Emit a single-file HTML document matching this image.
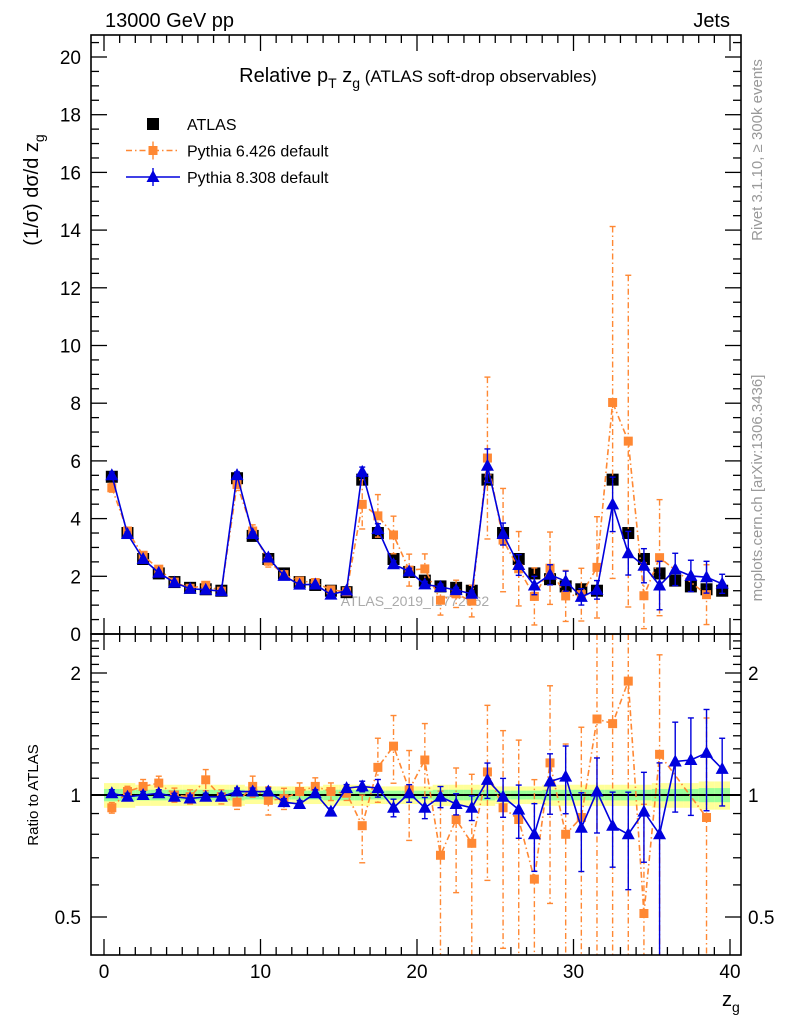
<!DOCTYPE html>
<html><head><meta charset="utf-8"><style>
body{margin:0;background:#fff;width:786px;height:1024px;overflow:hidden}
svg text{font-family:"Liberation Sans",sans-serif}
</style></head><body>
<svg id="c" width="786" height="1024" xmlns="http://www.w3.org/2000/svg">
<text x="105" y="27" font-size="20">13000 GeV pp</text>
<text x="730" y="27" font-size="20" text-anchor="end">Jets</text>
<text x="418" y="82" font-size="20" text-anchor="middle">Relative p<tspan font-size="14" dy="6">T</tspan><tspan dy="-6"> z</tspan><tspan font-size="14" dy="6">g</tspan><tspan dy="-6" font-size="17"> (ATLAS soft-drop observables)</tspan></text>
<text transform="translate(38,190) rotate(-90)" font-size="20" text-anchor="middle">(1/σ) dσ/d z<tspan font-size="14" dy="6">g</tspan></text>
<text transform="translate(38,795) rotate(-90)" font-size="15" text-anchor="middle">Ratio to ATLAS</text>
<text transform="translate(762,150) rotate(-90)" font-size="15" fill="#999" text-anchor="middle">Rivet 3.1.10, ≥ 300k events</text>
<text transform="translate(762,488) rotate(-90)" font-size="15" fill="#999" text-anchor="middle">mcplots.cern.ch [arXiv:1306.3436]</text>
<text x="722" y="1006" font-size="20">z<tspan font-size="14" dy="6">g</tspan></text>
<text x="415" y="606" font-size="14" fill="#aaa" text-anchor="middle">ATLAS_2019_I1772062</text>
<g id="g"></g>
</svg>
<script>
const atlas=[5.45,3.5,2.6,2.1,1.8,1.6,1.55,1.5,5.4,3.4,2.6,2.1,1.8,1.7,1.5,1.45,5.35,3.5,2.6,2.15,1.85,1.65,1.6,1.5,5.35,3.5,2.6,2.1,1.9,1.65,1.55,1.5,5.35,3.5,2.6,2.1,1.85,1.65,1.55,1.5];
const r6=[0.93,1.02,1.05,1.07,1.0,0.99,1.09,0.99,0.96,1.05,0.97,0.98,1.02,1.05,1.02,1.01,0.84,1.17,1.32,1.03,1.22,0.71,0.87,0.76,1.14,0.93,0.87,0.62,1.20,0.80,0.88,1.54,1.50,1.91,0.51,1.26,null,null,0.88,null];
const r8=[1.01,0.99,1.0,1.01,0.99,0.98,0.99,0.99,1.02,1.02,1.02,0.96,0.95,1.01,0.91,1.04,1.05,1.04,0.93,1.01,0.93,0.99,0.95,0.93,1.09,0.99,0.92,0.80,1.08,1.11,0.83,1.02,0.84,0.80,0.91,0.80,1.21,1.22,1.27,1.16];
const e6=[0.03,0.03,0.04,0.04,0.04,0.04,0.06,0.04,0.04,0.06,0.08,0.06,0.05,0.05,0.05,0.04,0.19,0.18,0.19,0.25,0.23,0.44,0.34,0.48,0.46,0.55,0.57,0.76,0.55,0.67,0.67,0.76,0.76,0.86,0.86,0.76,0,0,0.76,0];
const e8=[0.02,0.02,0.02,0.02,0.02,0.02,0.02,0.02,0.02,0.02,0.02,0.02,0.02,0.02,0.02,0.02,0.03,0.05,0.05,0.05,0.06,0.06,0.06,0.07,0.1,0.11,0.15,0.19,0.17,0.19,0.22,0.21,0.21,0.27,0.25,0.5,0.25,0.27,0.28,0.19];
const bandY=[0.07,0.07,0.06,0.06,0.06,0.06,0.06,0.06,0.06,0.05,0.05,0.05,0.05,0.05,0.06,0.06,0.06,0.05,0.05,0.05,0.05,0.06,0.06,0.06,0.06,0.05,0.05,0.05,0.06,0.06,0.06,0.06,0.06,0.06,0.06,0.07,0.07,0.07,0.08,0.08];
const bandG=bandY.map(v=>v*0.5);
const p6=atlas.map((a,i)=>r6[i]==null?null:a*r6[i]);
const p8=atlas.map((a,i)=>a*r8[i]);
const xTicks=[0,10,20,30,40], yTicks=[0,2,4,6,8,10,12,14,16,18,20], rTicks=[0.5,1,2];

const NS="http://www.w3.org/2000/svg",G=document.getElementById('g');
const L=91,R=741,T1=35,B1=634,B2=955;
const X=v=>104+v*15.65, Y=v=>634-v*28.85, RY=v=>795-122*Math.log2(v);
function mk(t,a){const e=document.createElementNS(NS,t);for(const k in a)e.setAttribute(k,a[k]);G.appendChild(e);return e;}
function clampY(y,t,b){return Math.max(t,Math.min(b,y));}
atlas.forEach((a,i)=>{
 let r=mk('rect',{x:X(i),y:RY(1+bandY[i]),width:15.65,height:RY(1-bandY[i])-RY(1+bandY[i]),fill:'#ffff99'});
 
 let g=mk('rect',{x:X(i),y:RY(1+bandG[i]),width:15.65,height:RY(1-bandG[i])-RY(1+bandG[i]),fill:'#99ff99'});
 
});
let one=mk('line',{x1:L,x2:R,y1:RY(1),y2:RY(1),stroke:'#000','stroke-width':2});

function series(vals,errs,yf,t,b,color,dash,marker,name,drawLine){
 if(drawLine){let pts=[];vals.forEach((v,i)=>{if(v==null)return;pts.push([X(i+0.5),clampY(yf(v),t,b)]);});
 let pl=mk('polyline',{points:pts.map(p=>p.join(',')).join(' '),fill:'none',stroke:color,'stroke-width':1.6,'stroke-dasharray':dash});
 }
 vals.forEach((v,i)=>{if(v==null)return;const x=X(i+0.5);
  const rt=yf(v*(1+errs[i])),rb=yf(Math.max(v*(1-errs[i]),1e-3));
  const yt=clampY(rt,t,b),yb=clampY(rb,t,b);
  let e=mk('line',{x1:x,x2:x,y1:yt,y2:yb,stroke:color,'stroke-width':1.4,'stroke-dasharray':dash});
  
  [[rt,yt],[rb,yb]].forEach(c=>{if(c[0]!==c[1])return;let cp=mk('line',{x1:x-3,x2:x+3,y1:c[0],y2:c[0],stroke:color,'stroke-width':1.4});});
  const y=yf(v);if(y<t||y>b)return;let m;
  if(marker=='sq')m=mk('rect',{x:x-4.5,y:y-4.5,width:9,height:9,fill:color});
  else if(marker=='bsq')m=mk('rect',{x:x-6,y:y-6,width:12,height:12,fill:color});
  else m=mk('polygon',{points:`${x},${y-7} ${x-6.5},${y+5} ${x+6.5},${y+5}`,fill:color});
  
 });
}
series(atlas,atlas.map(()=>0.01),Y,T1,B1,'#000','none','bsq','atlas',false);
series(p6,e6,Y,T1,B1,'#ff8833','6,3,1.5,3','sq','pythia6',true);
series(p8,e8,Y,T1,B1,'#0000dd','none','tri','pythia8',true);
series(r6,e6,RY,B1,B2,'#ff8833','6,3,1.5,3','sq','pythia6-ratio',true);
series(r8,e8,RY,B1,B2,'#0000dd','none','tri','pythia8-ratio',true);
[[T1,B1,'main-frame'],[B1,B2,'ratio-frame']].forEach(f=>{let r=mk('rect',{x:L,y:f[0],width:R-L,height:f[1]-f[0],fill:'none',stroke:'#000','stroke-width':1.6});});
for(let v=0;v<=40;v++){const x=X(v),len=v%10==0?16:8;
 [[B1,-1],[T1,1],[B2,-1],[B1,1]].forEach(p=>{let l=mk('line',{x1:x,x2:x,y1:p[0],y2:p[0]+p[1]*len,stroke:'#000','stroke-width':1.3});});}
xTicks.forEach(v=>{let t=mk('text',{x:X(v),y:978,'font-size':19,'text-anchor':'middle'});t.textContent=v;});
for(let v=0;v<=20.5;v+=0.5){const y=Y(v),len=(v%2==0)?16:8;
 [[L,1],[R,-1]].forEach(p=>{let l=mk('line',{x1:p[0],x2:p[0]+p[1]*len,y1:y,y2:y,stroke:'#000','stroke-width':1.3});});}
yTicks.forEach(v=>{let t=mk('text',{x:81,y:Y(v)+7,'font-size':19,'text-anchor':'end'});t.textContent=v;});
[0.4,0.5,0.6,0.7,0.8,0.9,1,1.1,1.2,1.3,1.4,1.5,1.6,1.7,1.8,1.9,2,2.1,2.2,2.3,2.4].forEach(v=>{const y=RY(v);if(y<B1||y>B2)return;const len=rTicks.includes(v)?16:8;
 [[L,1],[R,-1]].forEach(p=>{let l=mk('line',{x1:p[0],x2:p[0]+p[1]*len,y1:y,y2:y,stroke:'#000','stroke-width':1.3});});});
rTicks.forEach(v=>{[[81,'end'],[748,'start']].forEach(p=>{let t=mk('text',{x:p[0],y:RY(v)+7,'font-size':19,'text-anchor':p[1]});t.textContent=v;});});
const leg=[['ATLAS','#000','none','bsq'],['Pythia 6.426 default','#ff8833','6,3,1.5,3','sq'],['Pythia 8.308 default','#0000dd','none','tri']];
leg.forEach((l,i)=>{const y=124+i*26.5,x=153;
 if(i>0){let ln=mk('line',{x1:126,x2:180,y1:y,y2:y,stroke:l[1],'stroke-width':1.6,'stroke-dasharray':l[2]});
  let e=mk('line',{x1:x,x2:x,y1:y-9,y2:y+9,stroke:l[1],'stroke-width':1.4});}
 let m;if(l[3]=='bsq')m=mk('rect',{x:x-6,y:y-6,width:12,height:12,fill:l[1]});else if(l[3]=='sq')m=mk('rect',{x:x-4.5,y:y-4.5,width:9,height:9,fill:l[1]});else m=mk('polygon',{points:`${x},${y-7} ${x-6.5},${y+5} ${x+6.5},${y+5}`,fill:l[1]});
 
 let t=mk('text',{x:187,y:y+6,'font-size':16});t.textContent=l[0];});
</script>
</body></html>
